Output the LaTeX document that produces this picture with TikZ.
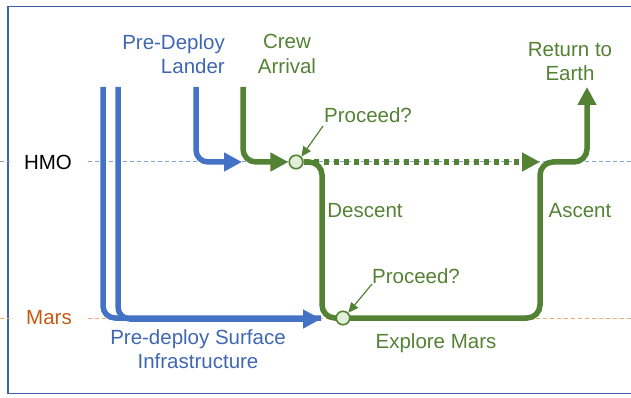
\documentclass[tikz,border=0pt]{standalone}
\usepackage{fontspec}
\setmainfont{Liberation Sans}
\usetikzlibrary{arrows.meta,backgrounds}
\definecolor{obl}{HTML}{4472C4}
\definecolor{obltxt}{HTML}{3F67B2}
\definecolor{ogr}{HTML}{548235}
\definecolor{oor}{HTML}{C55A11}
\definecolor{hmoline}{HTML}{7FA0DA}
\definecolor{marsline}{HTML}{F4A873}
\definecolor{framec}{HTML}{3F5FA6}
\definecolor{cfill}{HTML}{E2F0D9}
\begin{document}
\begin{tikzpicture}[x=1pt,y=-1pt,
  lbl/.style={font=\fontsize{20.5}{24.5}\selectfont, align=center, inner sep=0pt},
  bluetxt/.style={lbl, text=obltxt},
  greentxt/.style={lbl, text=ogr},
  bluepath/.style={draw=obl, line width=5.5pt, rounded corners=12pt},
  greenpath/.style={draw=ogr, line width=5.5pt, rounded corners=13pt},
  bigtip/.style={-{Triangle[length=18pt,width=18pt]}},
  smalltip/.style={-{Triangle[length=10pt,width=9pt]}},
  pointer/.style={draw=ogr, line width=1.2pt, smalltip},
  circ/.style={circle, draw=ogr, fill=cfill, line width=1.6pt, minimum size=13.5pt, inner sep=0pt},
  levelline/.style={line width=1pt, dash pattern=on 4pt off 3pt}]
\useasboundingbox (0,0) rectangle (631,398);

% decision circles
\node[circ] (c1) at (296,162) {};
\node[circ] (c2) at (343,318) {};

% labels
\node[lbl, anchor=center] (hmo) at (48,162) {HMO};
\node[lbl, text=oor] (mars) at (49,318) {Mars};
\node[bluetxt, align=right, anchor=north east] (lander) at (225,34) {Pre-Deploy\\Lander};
\node[greentxt, anchor=north] (crew) at (287,34) {Crew\\Arrival};
\node[greentxt, anchor=north] (earth) at (570,42) {Return to\\Earth};
\node[greentxt] (pq1) at (368,115) {Proceed?};
\node[greentxt] (pq2) at (416,276) {Proceed?};
\node[greentxt] (descent) at (365,211) {Descent};
\node[greentxt] (ascent) at (580,211) {Ascent};
\node[greentxt] (explore) at (436,343) {Explore Mars};
\node[bluetxt, anchor=north] (surface) at (198,329) {Pre-deploy Surface\\Infrastructure};

% coordinates
\coordinate (hmoL) at (0,162);
\coordinate (hmoA) at (10,162);
\coordinate (hmoB) at (88,162);
\coordinate (hmoR) at (631,162);
\coordinate (marsL) at (0,318);
\coordinate (marsA) at (10,318);
\coordinate (marsB) at (88,318);
\coordinate (marsR) at (631,318);
\coordinate (s1top) at (103,87);
\coordinate (s2top) at (118,87);
\coordinate (sEnd) at (321,318);
\coordinate (ltop) at (196,87);
\coordinate (lEnd) at (242,162);
\coordinate (ctop) at (243,87);
\coordinate (dX) at (322,162);
\coordinate (aBot) at (540,318);
\coordinate (aTop) at (540,162);
\coordinate (rTop) at (587,87);
\coordinate (p1s) at (323,126);
\coordinate (p2s) at (372,284);

\begin{scope}[on background layer]
  % frame
  \draw[framec, line width=1.6pt] (640,6.5) -- (8,6.5) -- (8,393.5) -- (640,393.5);
  % level lines
  \draw[hmoline, levelline] (hmoL) -- (hmoA);
  \draw[hmoline, levelline] (hmoB) -- (hmoR);
  \draw[marsline, levelline] (marsL) -- (marsA);
  \draw[marsline, levelline] (marsB) -- (marsR);
  % blue paths
  \draw[bluepath] (s1top) |- (sEnd);
  \draw[bluepath, bigtip] (s2top) |- ([yshift=-1pt]sEnd);
  \draw[bluepath, bigtip] (ltop) |- (lEnd);
  % green paths
  \draw[greenpath, bigtip] (ctop) |- (c1.west);
  \draw[greenpath, bigtip] (c1.east) -- (dX) -- (dX |- aBot) -- (aBot) -- (aTop) -- (aTop -| rTop) -- (rTop);
  \draw[draw=ogr, line width=5.5pt, dash pattern=on 5pt off 5pt, bigtip] (c1.east) -- (aTop);
\end{scope}

% pointers
\draw[pointer] (p1s) -- (c1.north east);
\draw[pointer] (p2s) -- (c2.north east);
\end{tikzpicture}
\end{document}
